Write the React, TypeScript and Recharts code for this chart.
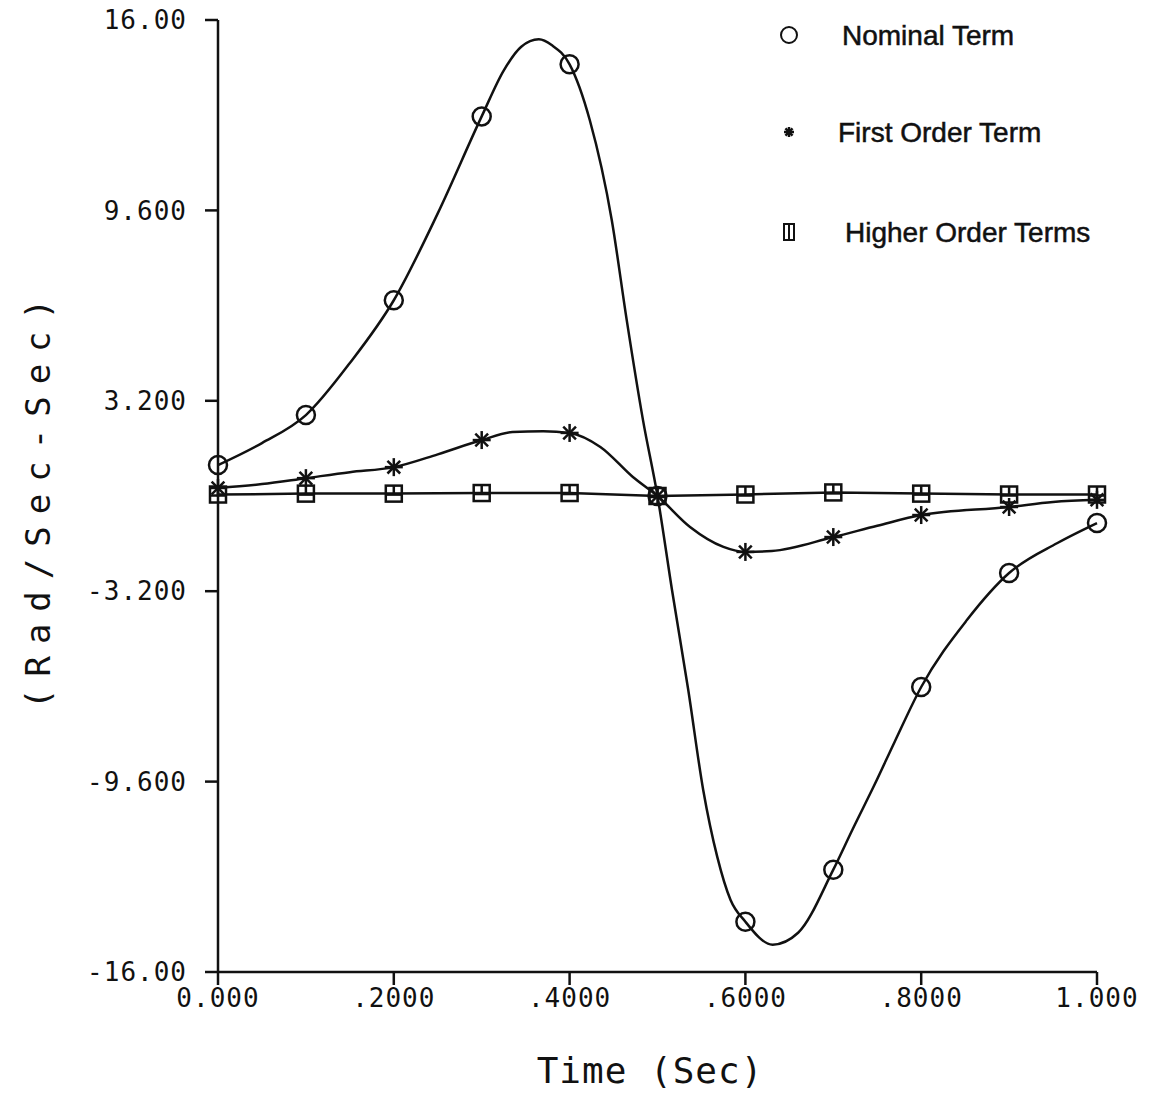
import { ComposedChart, Line, Scatter, XAxis, YAxis } from 'recharts';

// marker times (every 0.1 sec)
const markTimes = [0, 0.1, 0.2, 0.3, 0.4, 0.5, 0.6, 0.7, 0.8, 0.9, 1.0];
const nominalMarks = [1.04, 2.72, 6.58, 12.76, 14.51, 0, -14.31, -12.56, -6.42, -2.59, -0.91];
const firstMarks = [0.27, 0.6, 0.97, 1.88, 2.12, 0, -1.88, -1.38, -0.64, -0.37, -0.13];
const higherMarks = [0.05, 0.08, 0.08, 0.1, 0.1, 0, 0.05, 0.12, 0.08, 0.05, 0.05];

// extra points
const nominalCurveTimes = [0.05, 0.15, 0.25, 0.325, 0.345, 0.365, 0.38, 0.423, 0.448, 0.465, 0.4835, 0.5165, 0.535, 0.552, 0.568, 0.583, 0.631, 0.66, 0.722, 0.747, 0.77, 0.852, 0.955];
const nominalCurveVals = [1.78, 4.47, 9.5, 14.3, 15.1, 15.35, 15.15, 12.63, 9.27, 5.91, 2.55, -3.16, -6.52, -9.88, -12.13, -13.57, -15.08, -14.68, -11.2, -9.7, -8.25, -4.17, -1.58];
const firstCurveTimes = [0.05, 0.15, 0.25, 0.335, 0.37, 0.435, 0.472, 0.537, 0.575, 0.63, 0.75, 0.95];
const firstCurveVals = [0.4, 0.8, 1.4, 2.15, 2.18, 1.65, 0.64, -1.04, -1.71, -1.85, -1.0, -0.2];

const xTicks = [0, 0.2, 0.4, 0.6, 0.8, 1.0];
const xTickLabels = ['0.000', '.2000', '.4000', '.6000', '.8000', '1.000'];
const yTicks = [-16, -9.6, -3.2, 3.2, 9.6, 16];
const yTickLabels = ['-16.00', '-9.600', '-3.200', '3.200', '9.600', '16.00'];

const legendItems = ['Nominal Term', 'First Order Term', 'Higher Order Terms'];

type Pt = { t: number; v: number };
const toPoints = (ts: number[], vs: number[]): Pt[] => ts.map((t, i) => ({ t, v: vs[i] }));
const merge = (a: Pt[], b: Pt[]) => [...a, ...b].sort((p, q) => p.t - q.t);

const nominalMarkPts = toPoints(markTimes, nominalMarks);
const firstMarkPts = toPoints(markTimes, firstMarks);
const higherMarkPts = toPoints(markTimes, higherMarks);
const nominalCurve = merge(nominalMarkPts, toPoints(nominalCurveTimes, nominalCurveVals));
const firstCurve = merge(firstMarkPts, toPoints(firstCurveTimes, firstCurveVals));

const INK = '#111';
const tickFont = { fontFamily: 'DejaVu Sans Mono', fontSize: 26, fill: INK, letterSpacing: 1 };

const CircleMark = (p: any) => (
  <circle cx={p.cx} cy={p.cy} r={9} fill="none" stroke={INK} strokeWidth={2.5} />
);

const StarMark = (p: any) => {
  const r = 9;
  const lines = [0, 45, 90, 135].map((a) => {
    const rad = (a * Math.PI) / 180;
    return (
      <line key={a} x1={p.cx - r * Math.cos(rad)} y1={p.cy - r * Math.sin(rad)}
        x2={p.cx + r * Math.cos(rad)} y2={p.cy + r * Math.sin(rad)} stroke={INK} strokeWidth={2.5} />
    );
  });
  return <g>{lines}</g>;
};

const SquareMark = (p: any) => (
  <g fill="none" stroke={INK} strokeWidth={2.5}>
    <rect x={p.cx - 8} y={p.cy - 8} width={16} height={16} />
    <line x1={p.cx - 8} y1={p.cy + 1} x2={p.cx + 8} y2={p.cy + 1} />
    <line x1={p.cx} y1={p.cy - 8} x2={p.cx} y2={p.cy + 1} />
  </g>
);

const LegendBox = () => (
  <svg width={1151} height={300} style={{ position: 'absolute', left: 0, top: 0, pointerEvents: 'none' }}>
    <circle cx={789} cy={35} r={8} fill="none" stroke={INK} strokeWidth={2} />
    <g stroke={INK} strokeWidth={2.5}>
      {[0, 45, 90, 135].map((a) => {
        const rad = (a * Math.PI) / 180;
        return <line key={a} x1={789 - 5 * Math.cos(rad)} y1={132 - 5 * Math.sin(rad)}
          x2={789 + 5 * Math.cos(rad)} y2={132 + 5 * Math.sin(rad)} />;
      })}
    </g>
    <g fill="none" stroke={INK} strokeWidth={2}>
      <rect x={784} y={224} width={10} height={16} />
      <line x1={789} y1={224} x2={789} y2={240} />
    </g>
    <g fontFamily="Liberation Sans" fontSize={28} fill={INK} stroke={INK} strokeWidth={0.5}>
      <text x={842} y={35} dominantBaseline="central">{legendItems[0]}</text>
      <text x={838} y={132} dominantBaseline="central">{legendItems[1]}</text>
      <text x={845} y={232} dominantBaseline="central">{legendItems[2]}</text>
    </g>
  </svg>
);

const App = () => {
  return (
    <div style={{ position: 'absolute', left: 0, top: 0, width: 1151, height: 1095, background: '#fff' }}>
      <ComposedChart width={1151} height={1095} margin={{ top: 20, right: 54, bottom: 0, left: 0 }}>
        <XAxis
          dataKey="t" type="number" domain={[0, 1]} ticks={xTicks} height={123}
          tickFormatter={(v: number) => xTickLabels[xTicks.indexOf(v)]}
          axisLine={{ stroke: INK, strokeWidth: 2.5 }}
          tickLine={{ stroke: INK, strokeWidth: 2.5 }}
          tickSize={13} tickMargin={4} tick={tickFont}
          label={{
            content: () => (
              <text x={650} y={1070} textAnchor="middle" dominantBaseline="central"
                fontFamily="DejaVu Sans Mono" fontSize={36} fill={INK} letterSpacing={1}>
                Time (Sec)
              </text>
            ),
          }}
        />
        <YAxis
          dataKey="v" type="number" domain={[-16, 16]} ticks={yTicks} width={218}
          tickFormatter={(v: number) => yTickLabels[yTicks.indexOf(v)]}
          axisLine={{ stroke: INK, strokeWidth: 2.5 }}
          tickLine={{ stroke: INK, strokeWidth: 2.5 }}
          tickSize={13} tickMargin={18} tick={tickFont}
          label={{
            content: () => (
              <text x={38} y={498} transform="rotate(-90 38 498)" textAnchor="middle"
                dominantBaseline="central" fontFamily="DejaVu Sans Mono" fontSize={34}
                fill={INK} letterSpacing={12}>
                (Rad/Sec-Sec)
              </text>
            ),
          }}
        />
        <Line data={nominalCurve} dataKey="v" type="monotone" stroke={INK} strokeWidth={2.5} dot={false} isAnimationActive={false} />
        <Line data={firstCurve} dataKey="v" type="monotone" stroke={INK} strokeWidth={2.5} dot={false} isAnimationActive={false} />
        <Line data={higherMarkPts} dataKey="v" type="linear" stroke={INK} strokeWidth={2.5} dot={false} isAnimationActive={false} />
        <Scatter data={nominalMarkPts} dataKey="v" shape={CircleMark} isAnimationActive={false} />
        <Scatter data={firstMarkPts} dataKey="v" shape={StarMark} isAnimationActive={false} />
        <Scatter data={higherMarkPts} dataKey="v" shape={SquareMark} isAnimationActive={false} />
      </ComposedChart>
      <LegendBox />
    </div>
  );
};

export default App;
